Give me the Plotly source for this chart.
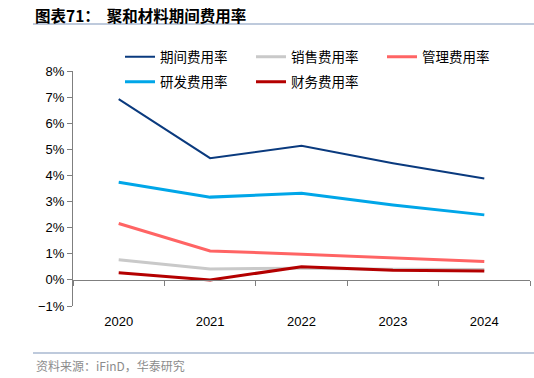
import plotly.graph_objects as go

years = ["2020", "2021", "2022", "2023", "2024"]
names = ["期间费用率", "销售费用率", "管理费用率", "研发费用率", "财务费用率"]
period = [6.92, 4.66, 5.14, 4.47, 3.88]
sales = [0.77, 0.42, 0.45, 0.41, 0.40]
admin = [2.16, 1.11, 0.98, 0.84, 0.70]
rnd = [3.74, 3.17, 3.32, 2.87, 2.49]
finance = [0.27, 0.0, 0.50, 0.37, 0.34]

series = [period, sales, admin, rnd, finance]
colors = ["#0A3A7E", "#C9C9C9", "#FF6464", "#00A6E8", "#B40000"]
widths = [2, 3, 3, 3, 3]
legend_rows = ["legend", "legend", "legend", "legend2", "legend2"]

fig = go.Figure()
for n, s, c, w, lg in zip(names, series, colors, widths, legend_rows):
    fig.add_trace(go.Scatter(x=years, y=s, name=n, mode="lines", legend=lg,
                             line=dict(color=c, width=w)))

PL, PR, PT, PB = 73, 4, 71, 72
W, H = 534, 378
pw = W - PL - PR
ph = H - PT - PB

def px_x(x):
    return (x - PL) / pw

def px_y(y):
    return (H - PB - y) / ph

leg_common = dict(orientation="h", xanchor="left", yanchor="middle",
                  entrywidth=86, entrywidthmode="pixels",
                  font=dict(family="Noto Sans CJK SC", size=13.5, color="#000"),
                  bgcolor="rgba(0,0,0,0)", traceorder="normal")

fig.update_layout(
    width=W, height=H,
    margin=dict(l=PL, r=PR, t=PT, b=PB, autoexpand=False),
    paper_bgcolor="white", plot_bgcolor="white",
    font=dict(family="Arial, Liberation Sans, Noto Sans CJK SC", size=13, color="#000"),
    showlegend=True,
    legend=dict(x=px_x(120), y=px_y(57), **leg_common),
    legend2=dict(x=px_x(120), y=px_y(82), **leg_common),
    xaxis=dict(type="category", range=[-0.5, 4.5], anchor="free", position=1/9,
               showline=True, linecolor="#7f7f7f", linewidth=1,
               ticks="outside", ticklen=5, tickcolor="#7f7f7f", tickson="boundaries",
               showgrid=False, zeroline=False, ticklabelstandoff=30,
               tickfont=dict(family="Arial, Liberation Sans", size=13)),
    yaxis=dict(range=[-1, 8], dtick=1, tick0=0, ticksuffix="%",
               showline=True, linecolor="#7f7f7f", linewidth=1,
               ticks="outside", ticklen=5, tickcolor="#7f7f7f",
               showgrid=False, zeroline=False,
               tickfont=dict(family="Arial, Liberation Sans", size=13)),
    annotations=[
        dict(text="<b>图表71：  聚和材料期间费用率</b>", xref="paper", yref="paper",
             x=px_x(33), y=px_y(15), xanchor="left", yanchor="middle", showarrow=False,
             font=dict(family="Noto Sans CJK SC", size=15.5, color="#000")),
        dict(text="资料来源：iFinD，华泰研究", xref="paper", yref="paper",
             x=px_x(34), y=px_y(365), xanchor="left", yanchor="middle", showarrow=False,
             font=dict(family="Noto Sans CJK SC", size=12, color="#8c8c8c")),
    ],
    shapes=[
        dict(type="line", xref="paper", yref="paper", x0=px_x(33), x1=px_x(534),
             y0=px_y(24), y1=px_y(24), line=dict(color="#A8B8D0", width=1.5)),
        dict(type="line", xref="paper", yref="paper", x0=px_x(33), x1=px_x(534),
             y0=px_y(353), y1=px_y(353), line=dict(color="#A8B8D0", width=1.5)),
    ],
)

fig.write_html("out.html", config={"displayModeBar": False},
               post_script="document.body.style.margin='0';document.body.style.overflow='hidden';")
